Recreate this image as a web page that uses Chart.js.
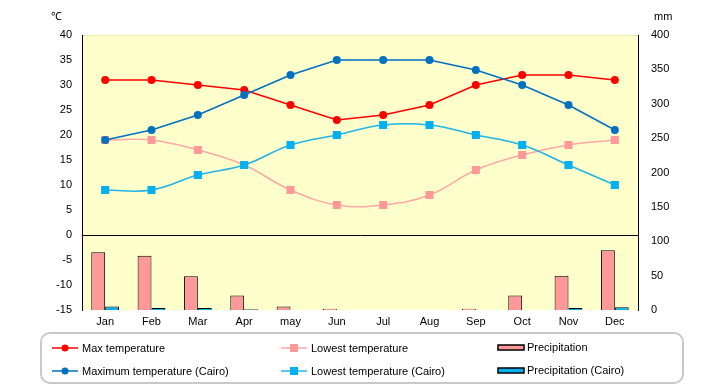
<!DOCTYPE html>
<html>
<head>
<meta charset="utf-8">
<script src="https://cdn.jsdelivr.net/npm/chart.js@4.4.0/dist/chart.umd.min.js"></script>
<style>
    body { margin: 0; background: #fff; }
</style>
</head>
<body>
<canvas id="grafico" width="720" height="385"></canvas>
<script>
// Dados do gráfico
const meses = ['Jan', 'Feb', 'Mar', 'Apr', 'may', 'Jun', 'Jul', 'Aug', 'Sep', 'Oct', 'Nov', 'Dec']
const tempMax = [31, 31, 30, 29, 26, 23, 24, 26, 30, 32, 32, 31]
const tempMin = [19, 19, 17, 14, 9, 6, 6, 8, 13, 16, 18, 19]
const chuva = [84, 79, 49, 21, 5, 2, 0, 0, 2, 21, 50, 87]
const tempMaxCairo = [19, 21, 24, 28, 32, 35, 35, 35, 33, 30, 26, 21]
const tempMinCairo = [9, 9, 12, 14, 18, 20, 22, 22, 20, 18, 14, 10]
const chuvaCairo = [5, 3, 3, 1, 0, 0, 0, 0, 0, 0, 3, 4]
const escalaTemp = [-15, 40, 5]
const escalaChuva = [0, 400, 50]

Chart.defaults.font.family = "'Liberation Sans', Arial, sans-serif"
Chart.defaults.font.size = 11
Chart.defaults.color = '#000'

// fundo amarelo da área do gráfico + unidades
const fundo = {
    id: 'fundo',
    beforeDraw(chart) {
        const c = chart.ctx
        const a = chart.chartArea
        c.save()
        c.fillStyle = '#FFFFCC'
        c.fillRect(a.left, a.top, a.right - a.left, a.bottom - a.top)
        c.strokeStyle = '#EEEEAA'
        c.lineWidth = 1
        c.beginPath()
        c.moveTo(a.left, a.top + 0.5)
        c.lineTo(a.right, a.top + 0.5)
        c.stroke()
        c.fillStyle = '#000'
        c.font = "11px 'Liberation Sans', Arial"
        c.textBaseline = 'middle'
        c.fillText('℃', 51, 17)
        c.fillText('mm', 654, 17)
        c.restore()
    }
}

// legenda desenhada à mão (3 colunas x 2 linhas)
const legenda = {
    id: 'legenda',
    afterDraw(chart) {
        const c = chart.ctx
        const colunas = [52, 281, 498]
        const linhas = [348, 371]
        c.save()
        c.strokeStyle = '#C8C8C8'
        c.lineWidth = 2
        c.beginPath()
        c.roundRect(41, 333, 642, 50, 9)
        c.stroke()
        c.font = "11px 'Liberation Sans', Arial"
        c.textBaseline = 'middle'
        chart.data.datasets.forEach((ds, i) => {
            const x = colunas[i % 3]
            const y = linhas[Math.floor(i / 3)]
            if (ds.type === 'line') {
                c.strokeStyle = ds.borderColor
                c.lineWidth = 1.5
                c.beginPath()
                c.moveTo(x, y)
                c.lineTo(x + 26, y)
                c.stroke()
                c.fillStyle = ds.pointBackgroundColor
                if (ds.pointStyle === 'rect') {
                    c.fillRect(x + 9, y - 4, 8, 8)
                } else {
                    c.beginPath()
                    c.arc(x + 13, y, 3.5, 0, Math.PI * 2)
                    c.fill()
                }
                c.fillStyle = '#000'
                c.fillText(ds.label, x + 30, y + 1)
            } else {
                c.fillStyle = ds.backgroundColor
                c.fillRect(x, y - 3, 26, 5)
                c.strokeStyle = '#000'
                c.lineWidth = 1.5
                c.strokeRect(x, y - 3, 26, 5)
                c.fillStyle = '#000'
                c.fillText(ds.label, x + 29, y)
            }
        })
        c.restore()
    }
}

const ctx = document.getElementById('grafico')
new Chart(ctx, {
    type: 'bar',
    data: {
        labels: meses,
        datasets: [{
            type: 'line',
            label: 'Max temperature',
            data: tempMax,
            yAxisID: 'y',
            borderColor: '#FF0000',
            backgroundColor: '#FF0000',
            pointBackgroundColor: '#FF0000',
            pointBorderWidth: 0,
            pointRadius: 4,
            borderWidth: 1.5,
            tension: 0,
            order: 5
        }, {
            type: 'line',
            label: 'Lowest temperature',
            data: tempMin,
            yAxisID: 'y',
            borderColor: '#FFA8A8',
            backgroundColor: '#FF9999',
            pointBackgroundColor: '#FF9999',
            pointStyle: 'rect',
            pointBorderWidth: 0,
            pointRadius: 5.7,
            borderWidth: 1.5,
            tension: 0.4,
            order: 6
        }, {
            label: 'Precipitation',
            data: chuva,
            yAxisID: 'y1',
            backgroundColor: '#FF9999',
            borderColor: '#000',
            borderWidth: 1,
            barPercentage: 1,
            categoryPercentage: 0.6,
            order: 10
        }, {
            type: 'line',
            label: 'Maximum temperature (Cairo)',
            data: tempMaxCairo,
            yAxisID: 'y',
            borderColor: '#0070C0',
            backgroundColor: '#0070C0',
            pointBackgroundColor: '#0070C0',
            pointBorderWidth: 0,
            pointRadius: 4,
            borderWidth: 1.5,
            tension: 0,
            order: 3
        }, {
            type: 'line',
            label: 'Lowest temperature (Cairo)',
            data: tempMinCairo,
            yAxisID: 'y',
            borderColor: '#22B4E8',
            backgroundColor: '#00B0F0',
            pointBackgroundColor: '#00B0F0',
            pointStyle: 'rect',
            pointBorderWidth: 0,
            pointRadius: 5.7,
            borderWidth: 1.5,
            tension: 0.4,
            order: 4
        }, {
            label: 'Precipitation (Cairo)',
            data: chuvaCairo,
            yAxisID: 'y1',
            backgroundColor: '#00B0F0',
            borderColor: '#000',
            borderWidth: 1,
            barPercentage: 1,
            categoryPercentage: 0.6,
            order: 10
        }]
    },
    options: {
        responsive: false,
        animation: false,
        layout: { padding: { top: 35, left: 0, right: 0, bottom: 0 } },
        plugins: {
            legend: { display: false },
            tooltip: { enabled: false }
        },
        scales: {
            x: {
                grid: { display: false },
                border: { display: false },
                ticks: { padding: -3 },
                afterFit: (s) => { s.height = 75 }
            },
            y: {
                position: 'left',
                min: escalaTemp[0],
                max: escalaTemp[1],
                ticks: { stepSize: escalaTemp[2], padding: 10 },
                grid: {
                    drawTicks: false,
                    color: (c) => c.tick && c.tick.value === 0 ? '#000' : 'rgba(0,0,0,0)'
                },
                border: { display: true, color: '#000', width: 1 },
                afterFit: (s) => { s.width = 82 }
            },
            y1: {
                position: 'right',
                min: escalaChuva[0],
                max: escalaChuva[1],
                ticks: { stepSize: escalaChuva[2], padding: 13 },
                grid: { display: false, drawTicks: false },
                border: { display: true, color: '#000', width: 1 },
                afterFit: (s) => { s.width = 82 }
            }
        }
    },
    plugins: [fundo, legenda]
})
</script>
</body>
</html>
